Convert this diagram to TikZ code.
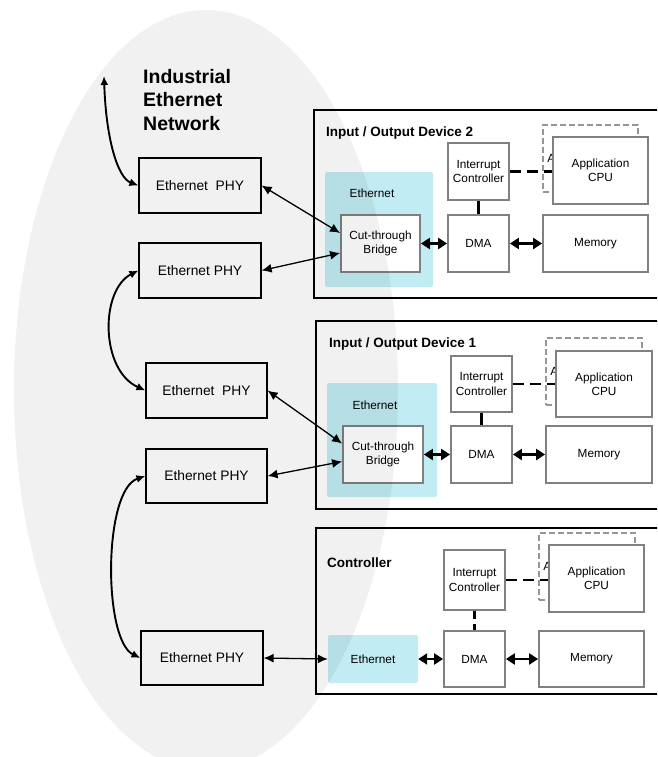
\documentclass[tikz,border=0pt]{standalone}
\usepackage{fontspec}
\setmainfont{Liberation Sans}
\usetikzlibrary{arrows.meta,calc}
\definecolor{ethcyan}{RGB}{193,236,243}
\definecolor{blkgray}{RGB}{128,128,128}
\definecolor{dashgray}{RGB}{150,150,150}
\begin{document}
\begin{tikzpicture}[x=1pt,y=-1pt,
  phy/.style={draw=black,line width=1.2pt,minimum width=122pt,minimum height=55pt,inner sep=0pt,font=\fontsize{13.8}{16}\selectfont},
  blk/.style={draw=blkgray,line width=1.8pt,fill=white,inner sep=0pt,align=center,font=\fontsize{11.8}{14.2}\selectfont},
  backblk/.style={draw=dashgray,line width=1.6pt,dash pattern=on 6pt off 3pt,inner sep=0pt},
  dev/.style={draw=black,line width=2pt,inner sep=0pt,anchor=north west},
  eth/.style={fill=ethcyan,rounded corners=2pt,inner sep=0pt},
  ttl/.style={font=\fontsize{13.5}{16}\bfseries\selectfont,anchor=west,inner sep=0pt},
  lbl/.style={font=\fontsize{11.8}{14}\selectfont,inner sep=0pt},
  thinarr/.style={line width=1.3pt,{Latex[length=10pt,width=9pt]}-{Latex[length=10pt,width=9pt]}},
  curvearr/.style={line width=1.9pt,{Latex[length=9pt,width=8pt]}-{Latex[length=9pt,width=8pt]}},
  thickarr/.style={line width=2.6pt,{Triangle[length=9pt,width=11pt]}-{Triangle[length=9pt,width=11pt]}},
  solidlink/.style={line width=2.6pt},
  dashlink/.style={line width=2.6pt,dash pattern=on 11pt off 6pt}
]
\useasboundingbox (0,0) rectangle (657,757);
\clip (0,0) rectangle (657,757);

% title of network
\node[anchor=west,align=left,inner sep=0pt,font=\fontsize{19.5}{23.5}\bfseries\selectfont] (net) at (143,100) {Industrial\\Ethernet\\Network};

% PHY boxes
\node[phy] (phy1) at (200,185.5) {Ethernet\ \ PHY};
\node[phy] (phy2) at (200,270.5) {Ethernet PHY};
\node[phy,minimum width=121pt] (phy3) at (206.5,390.5) {Ethernet\ \ PHY};
\node[phy,minimum width=121pt,minimum height=54pt] (phy4) at (206.5,476) {Ethernet PHY};
\node[phy,minimum height=54pt] (phy5) at (202,658) {Ethernet PHY};

% ---------- Device 2 ----------
\node[dev,minimum width=360pt,minimum height=188pt] (dev2) at (313,109) {};
\node[ttl] (t2) at (326,133) {Input / Output Device 2};
\node[eth,minimum width=108pt,minimum height=115pt] (eth2) at (379,229.5) {};
\node[lbl] (eth2l) at (372,193) {Ethernet};
\node[blk,minimum width=79pt,minimum height=57pt] (br2) at (380.5,243.5) {Cut-through\\Bridge};
\node[blk,minimum width=61pt,minimum height=57pt] (ic2) at (478.5,171.5) {Interrupt\\Controller};
\node[blk,minimum width=61pt,minimum height=57pt] (dma2) at (478.5,243.5) {DMA};
\node[blk,minimum width=105pt,minimum height=57pt] (mem2) at (595.5,243.5) {Memory};
\node[backblk,minimum width=95pt,minimum height=67pt] (cpub2) at (590.5,158.5) {};
\node[lbl,anchor=west] (cpub2l) at ($(cpub2.west)+(5,0)$) {A};
\node[blk,minimum width=95pt,minimum height=67pt] (cpu2) at (600.5,170.5) {Application\\CPU};
\draw[dashlink] (ic2.east) -- (ic2.east -| cpu2.west);
\draw[solidlink] (ic2.south) -- (dma2.north);
\draw[thickarr] (br2.east) -- (dma2.west);
\draw[thickarr] (dma2.east) -- (mem2.west);

% ---------- Device 1 ----------
\node[dev,minimum width=360pt,minimum height=188pt] (dev1) at (315,320) {};
\node[ttl] (t1) at (329,344) {Input / Output Device 1};
\node[eth,minimum width=110pt,minimum height=114pt] (eth1) at (382,440) {};
\node[lbl] (eth1l) at (375,405) {Ethernet};
\node[blk,minimum width=80pt,minimum height=57pt] (br1) at (383,454.5) {Cut-through\\Bridge};
\node[blk,minimum width=61pt,minimum height=56pt] (ic1) at (481.5,384) {Interrupt\\Controller};
\node[blk,minimum width=61pt,minimum height=57pt] (dma1) at (481.5,454.5) {DMA};
\node[blk,minimum width=106pt,minimum height=57pt] (mem1) at (599,454.5) {Memory};
\node[backblk,minimum width=96pt,minimum height=67pt] (cpub1) at (594,371.5) {};
\node[lbl,anchor=west] (cpub1l) at ($(cpub1.west)+(5,0)$) {A};
\node[blk,minimum width=96pt,minimum height=66pt] (cpu1) at (604,384) {Application\\CPU};
\draw[dashlink] (ic1.east) -- (ic1.east -| cpu1.west);
\draw[solidlink] (ic1.south) -- (dma1.north);
\draw[thickarr] (br1.east) -- (dma1.west);
\draw[thickarr] (dma1.east) -- (mem1.west);

% ---------- Controller ----------
\node[dev,minimum width=360pt,minimum height=166pt] (ctrl) at (315,527) {};
\node[ttl] (t0) at (327,563) {Controller};
\node[eth,minimum width=90pt,minimum height=48pt,lbl] (eth0) at (373,659) {Ethernet};
\node[blk,minimum width=61pt,minimum height=60pt] (ic0) at (474.5,580) {Interrupt\\Controller};
\node[blk,minimum width=61pt,minimum height=56pt] (dma0) at (474.5,659) {DMA};
\node[blk,minimum width=105pt,minimum height=56pt] (mem0) at (591.5,659) {Memory};
\node[backblk,minimum width=96pt,minimum height=67pt] (cpub0) at (587,566.5) {};
\node[lbl,anchor=west] (cpub0l) at ($(cpub0.west)+(5,0)$) {A};
\node[blk,minimum width=95pt,minimum height=67pt] (cpu0) at (596.5,578.5) {Application\\CPU};
\draw[dashlink] (ic0.east) -- (ic0.east -| cpu0.west);
\draw[line width=2.6pt,dash pattern=on 8pt off 5pt] (ic0.south) -- (dma0.north);
\draw[thickarr] (eth0.east) -- (dma0.west);
\draw[thickarr] (dma0.east) -- (mem0.west);

% ---------- network connectors ----------
\coordinate (netup) at (104,76);
\draw[curvearr] (netup) .. controls (106,140) and (118,178) .. (phy1.west);
\draw[curvearr] (phy2.west) .. controls (100,290) and (100,370) .. (phy3.west);
\draw[curvearr] (phy4.west) .. controls (103,490) and (103,640) .. (phy5.west);

\draw[thinarr] (phy1.east) -- ($(br2.west)+(0,-10.5)$);
\draw[thinarr] (phy2.east) -- ($(br2.west)+(0,9.5)$);
\draw[thinarr] (phy3.east) -- ($(br1.west)+(0,-11)$);
\draw[thinarr] (phy4.east) -- ($(br1.west)+(0,7)$);
\draw[thinarr] (phy5.east) -- (eth0.west);

% translucent network ellipse
\fill[black,fill opacity=0.055] (206,390) ellipse [x radius=192pt, y radius=380pt];
\end{tikzpicture}
\end{document}
